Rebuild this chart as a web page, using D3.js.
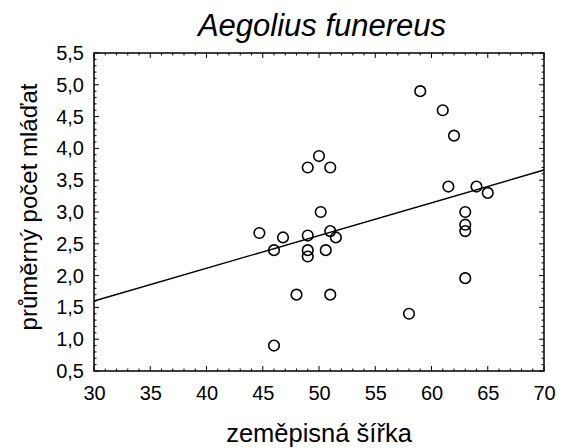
<!DOCTYPE html>
<html><head><meta charset="utf-8">
<script src="https://cdn.jsdelivr.net/npm/d3@7"></script>
<style>body{margin:0;background:#fff}svg{display:block}text{font-family:"Liberation Sans",Arial,sans-serif;fill:#000}</style>
</head><body>
<script>
const latitude = [59, 61, 62, 50, 49, 51, 61.5, 64, 65, 50.15, 63, 63, 63, 44.7, 46.8, 49, 51, 51.5, 46, 49, 49, 50.6, 63, 48, 51, 58, 46];
const meanYoung = [4.9, 4.6, 4.2, 3.88, 3.7, 3.7, 3.4, 3.4, 3.3, 3.0, 3.0, 2.8, 2.7, 2.67, 2.6, 2.63, 2.7, 2.6, 2.4, 2.4, 2.3, 2.4, 1.96, 1.7, 1.7, 1.4, 0.9];
const fitX = [30, 70];
const fitY = [1.60, 3.66];
const xTicks = [30, 35, 40, 45, 50, 55, 60, 65, 70];
const yTicks = [0.5, 1.0, 1.5, 2.0, 2.5, 3.0, 3.5, 4.0, 4.5, 5.0, 5.5];
const title = "Aegolius funereus";
const xLabel = "zeměpisná šířka";
const yLabel = "průměrný počet mláďat";

const W = 563, H = 448;
const L = 94, R = 544, T = 53, B = 371;
const svg = d3.select("body").append("svg").attr("width", W).attr("height", H);
const x = d3.scaleLinear().domain([30, 70]).range([L, R]);
const y = d3.scaleLinear().domain([0.5, 5.5]).range([B, T]);
const fmt = d => d3.format(".1f")(d).replace(".", ",");

// minor ticks
const xMinor = d3.range(30, 70.001, 1);
const yMinor = d3.range(0.5, 5.5001, 0.1);
const g = svg.append("g").attr("stroke", "#000").attr("stroke-width", 1);
const isMajX = v => Math.abs(v / 5 - Math.round(v / 5)) < 1e-6;
const isMajY = v => Math.abs(v / 0.5 - Math.round(v / 0.5)) < 1e-6;
xMinor.forEach(v => {
  const len = isMajX(v) ? 5 : 2.5;
  g.append("line").attr("x1", x(v)).attr("x2", x(v)).attr("y1", B).attr("y2", B - len);
  g.append("line").attr("x1", x(v)).attr("x2", x(v)).attr("y1", T).attr("y2", T + len);
});
yMinor.forEach(v => {
  const len = isMajY(v) ? 5 : 2.5;
  g.append("line").attr("y1", y(v)).attr("y2", y(v)).attr("x1", L).attr("x2", L + len);
  g.append("line").attr("y1", y(v)).attr("y2", y(v)).attr("x1", R).attr("x2", R - len);
});

// axes labels via d3 axes (no tick lines)
const xAxis = svg.append("g").attr("transform", `translate(0,${B})`)
  .call(d3.axisBottom(x).tickValues(xTicks).tickSize(0).tickPadding(15).tickFormat(d3.format("d")));
const yAxis = svg.append("g").attr("transform", `translate(${L},0)`)
  .call(d3.axisLeft(y).tickValues(yTicks).tickSize(0).tickPadding(10).tickFormat(fmt));
[xAxis, yAxis].forEach(a => {
  a.select(".domain").remove();
  a.selectAll("text").attr("font-size", 20).attr("font-family", '"Liberation Sans",Arial,sans-serif').attr("fill", "#000");
});

// frame
svg.append("rect").attr("x", L).attr("y", T).attr("width", R - L).attr("height", B - T)
  .attr("fill", "none").attr("stroke", "#000").attr("stroke-width", 1.5);

// regression line
svg.append("path").datum(fitX.map((v, i) => [v, fitY[i]]))
  .attr("d", d3.line().x(d => x(d[0])).y(d => y(d[1])))
  .attr("fill", "none").attr("stroke", "#000").attr("stroke-width", 1.4);

// points
svg.append("g").selectAll("circle").data(latitude).join("circle")
  .attr("cx", d => x(d)).attr("cy", (d, i) => y(meanYoung[i])).attr("r", 5.3)
  .attr("fill", "none").attr("stroke", "#000").attr("stroke-width", 1.6);

// titles
svg.append("text").attr("x", 322).attr("y", 36).attr("text-anchor", "middle")
  .attr("font-size", 31).attr("font-style", "italic").text(title);
svg.append("text").attr("x", 319).attr("y", 442).attr("text-anchor", "middle")
  .attr("font-size", 25.5).text(xLabel);
svg.append("text").attr("transform", `translate(37,207) rotate(-90)`).attr("text-anchor", "middle")
  .attr("font-size", 24).text(yLabel);
</script>
</body></html>
